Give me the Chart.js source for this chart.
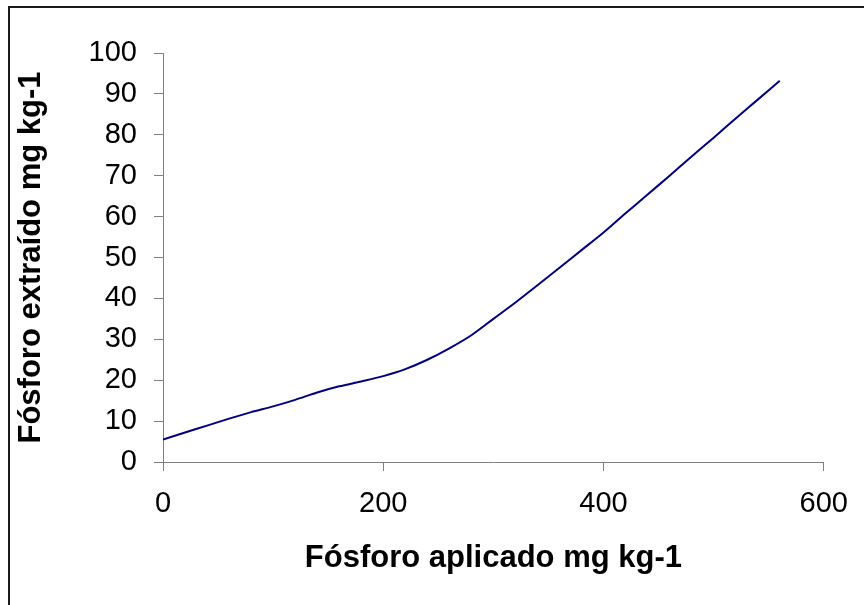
<!DOCTYPE html>
<html lang="pt">
<head>
    <meta charset="UTF-8">
    <title>Fósforo extraído vs Fósforo aplicado</title>
    <script src="https://cdn.jsdelivr.net/npm/chart.js"></script>
    <style>
        body { margin: 0; background: white; }
        canvas { display: block; }
    </style>
</head>
<body>
    <canvas id="grafico" width="864" height="605"></canvas>

    <script>
        // Dados (mg kg-1)
        var fosforoAplicado = [0, 20, 40, 60, 80, 100, 120, 140, 160, 180, 200, 220, 240, 260, 280,
                               300, 320, 340, 360, 380, 400, 420, 440, 460, 480, 500, 520, 540, 560];
        var fosforoExtraido = [5.5, 7.2, 8.9, 10.6, 12.2, 13.6, 15.2, 17.0, 18.5, 19.7, 21.0, 22.7, 25.0, 27.8, 31.0,
                               35.0, 39.0, 43.2, 47.5, 51.8, 56.1, 60.8, 65.4, 70.0, 74.7, 79.3, 84.0, 88.6, 93.2];

        var tituloX = "Fósforo aplicado mg kg-1";
        var tituloY = "Fósforo extraído mg kg-1";

        var fonte = "'Liberation Sans', Arial, sans-serif";

        // moldura (só os lados esquerdo e superior aparecem)
        var moldura = {
            id: "moldura",
            afterDraw: function (chart) {
                var ctx = chart.ctx;
                ctx.save();
                ctx.strokeStyle = "#1a1a1a";
                ctx.lineWidth = 2;
                ctx.beginPath();
                ctx.moveTo(9, 605);
                ctx.lineTo(9, 7);
                ctx.lineTo(864, 7);
                ctx.stroke();
                ctx.restore();
            }
        };

        var pontos = fosforoAplicado.map(function (x, i) {
            return { x: x, y: fosforoExtraido[i] };
        });

        var ctx = document.getElementById("grafico").getContext("2d");
        var grafico = new Chart(ctx, {
            type: "line",
            data: {
                datasets: [{
                    data: pontos,
                    borderColor: "#000080",
                    borderWidth: 2,
                    pointRadius: 0,
                    tension: 0.3,
                    fill: false
                }]
            },
            plugins: [moldura],
            options: {
                responsive: false,
                animation: false,
                layout: { padding: { top: 53, right: 37, bottom: 0, left: 0 } },
                plugins: {
                    legend: { display: false },
                    tooltip: { enabled: false }
                },
                scales: {
                    x: {
                        type: "linear",
                        min: 0,
                        max: 600,
                        afterFit: function (s) { s.height = 143; },
                        ticks: { stepSize: 200, color: "#000", padding: 16, font: { family: fonte, size: 29 } },
                        grid: { drawOnChartArea: false, tickLength: 9, color: "#808080" },
                        border: { color: "#808080", width: 1 },
                        title: {
                            display: true, text: tituloX, color: "#000",
                            font: { family: fonte, size: 31, weight: "bold" },
                            padding: { top: 0, bottom: 28 }
                        }
                    },
                    y: {
                        min: 0,
                        max: 100,
                        afterFit: function (s) { s.width = 163; },
                        ticks: { stepSize: 10, color: "#000", padding: 17, font: { family: fonte, size: 29 } },
                        grid: { drawOnChartArea: false, tickLength: 9, color: "#808080" },
                        border: { color: "#808080", width: 1 },
                        title: {
                            display: true, text: tituloY, color: "#000",
                            font: { family: fonte, size: 31, weight: "bold" },
                            padding: { top: 13, bottom: 0 }
                        }
                    }
                }
            }
        });
    </script>
</body>
</html>
